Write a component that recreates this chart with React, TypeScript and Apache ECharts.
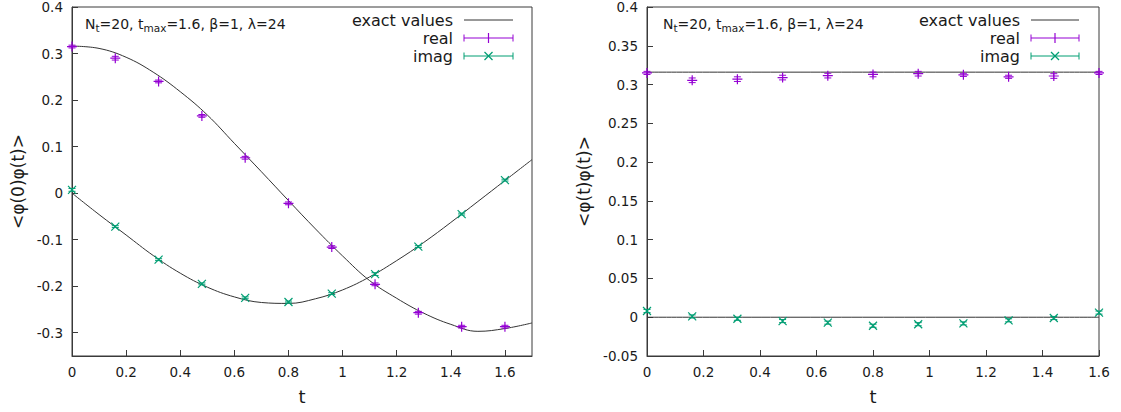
import React, { useEffect, useRef } from "react";
import * as echarts from "echarts";

// ---- data ----
const tPoints = [0, 0.16, 0.32, 0.48, 0.64, 0.8, 0.96, 1.12, 1.28, 1.44, 1.6];

// left panel: <phi(0)phi(t)>
const corrReal = [0.315, 0.29, 0.24, 0.166, 0.076, -0.022, -0.116, -0.196, -0.257, -0.287, -0.287];
const corrRealErr = [0.003, 0.004, 0.003, 0.003, 0.003, 0.003, 0.003, 0.003, 0.003, 0.003, 0.003];
const corrImag = [0.007, -0.072, -0.143, -0.195, -0.225, -0.234, -0.216, -0.174, -0.115, -0.045, 0.028];
const corrImagErr = [0.003, 0.002, 0.002, 0.002, 0.002, 0.002, 0.002, 0.003, 0.002, 0.002, 0.002];

const exactT = [0, 0.1, 0.2, 0.3, 0.4, 0.5, 0.6, 0.7, 0.8, 0.9, 1.0, 1.1, 1.2, 1.3, 1.4, 1.5, 1.6, 1.7];
const exactReal = [0.316, 0.311, 0.292, 0.26, 0.218, 0.168, 0.107, 0.046, -0.016, -0.077, -0.135, -0.188, -0.226, -0.258, -0.282, -0.297, -0.291, -0.279];
const exactImag = [0, -0.046, -0.09, -0.134, -0.172, -0.202, -0.223, -0.235, -0.237, -0.227, -0.208, -0.18, -0.145, -0.106, -0.063, -0.018, 0.027, 0.072];

// right panel: <phi(t)phi(t)>
const eqReal = [0.315, 0.3055, 0.307, 0.309, 0.3115, 0.313, 0.314, 0.3125, 0.31, 0.311, 0.315];
const eqRealErr = [0.002, 0.003, 0.003, 0.003, 0.003, 0.003, 0.003, 0.002, 0.002, 0.003, 0.002];
const eqImag = [0.008, 0.001, -0.002, -0.005, -0.007, -0.011, -0.009, -0.008, -0.004, -0.001, 0.006];
const eqImagErr = [0.002, 0.002, 0.002, 0.002, 0.002, 0.002, 0.002, 0.002, 0.002, 0.002, 0.002];
const eqExactT = [0, 1.6];
const eqExactReal = [0.316, 0.316];
const eqExactImag = [0, 0];

// tick labels
const leftXTicks = [0, 0.2, 0.4, 0.6, 0.8, 1, 1.2, 1.4, 1.6];
const leftYTicks = [-0.3, -0.2, -0.1, 0, 0.1, 0.2, 0.3, 0.4];
const rightXTicks = [0, 0.2, 0.4, 0.6, 0.8, 1, 1.2, 1.4, 1.6];
const rightYTicks = [-0.05, 0, 0.05, 0.1, 0.15, 0.2, 0.25, 0.3, 0.35, 0.4];

const legendNames = ["exact values", "real", "imag"];
const annotation = "{m|N}{s|t}{m|=20, t}{s|max}{m|=1.6, β=1, λ=24}";

// ---- styling ----
const FONT = "DejaVu Sans";
const PURPLE = "#9400d3";
const GREEN = "#009e73";
const AXIS = "#3a3a3a";
const TEXT = "#1a1a1a";
const CURVE = "#333333";

const PLUS = "path://M0,5L10,5M5,0L5,10";
const CROSS = "path://M0,0L10,10M0,10L10,0";

const zip = (xs: number[], ys: number[], es?: number[]) =>
  xs.map((x, i) => (es ? [x, ys[i], es[i]] : [x, ys[i]]));

const errRender = (color: string) => (params: any, api: any) => {
  const x = api.value(0);
  const y = api.value(1);
  const e = api.value(2);
  const lo = api.coord([x, y - e]);
  const hi = api.coord([x, y + e]);
  const w = 3.5;
  const style = { stroke: color, lineWidth: 1 };
  return {
    type: "group",
    children: [
      { type: "line", shape: { x1: lo[0], y1: lo[1], x2: hi[0], y2: hi[1] }, style },
      { type: "line", shape: { x1: lo[0] - w, y1: lo[1], x2: lo[0] + w, y2: lo[1] }, style },
      { type: "line", shape: { x1: hi[0] - w, y1: hi[1], x2: hi[0] + w, y2: hi[1] }, style },
    ],
  };
};

function xAxisCfg(grid: number, max: number, ticks: number[]) {
  return {
    type: "value",
    gridIndex: grid,
    min: 0,
    max,
    name: "t",
    nameLocation: "middle",
    nameGap: 31,
    nameTextStyle: { fontSize: 18, color: TEXT, fontFamily: FONT },
    axisLine: { show: true, onZero: false, lineStyle: { color: AXIS, width: 1 } },
    axisTick: { show: true, inside: true, length: 6, customValues: ticks, lineStyle: { color: AXIS } },
    axisLabel: { color: TEXT, fontSize: 13.5, fontFamily: FONT, margin: 9, customValues: ticks },
    splitLine: { show: false },
  };
}

function yAxisCfg(grid: number, min: number, max: number, ticks: number[], name: string, gap: number) {
  return {
    type: "value",
    gridIndex: grid,
    min,
    max,
    name,
    nameLocation: "middle",
    nameRotate: 90,
    nameGap: gap,
    nameTextStyle: { fontSize: 17, color: TEXT, fontFamily: FONT },
    axisLine: { show: true, onZero: false, lineStyle: { color: AXIS, width: 1 } },
    axisTick: { show: true, inside: true, length: 6, customValues: ticks, lineStyle: { color: AXIS } },
    axisLabel: { color: TEXT, fontSize: 13.5, fontFamily: FONT, margin: 9, customValues: ticks },
    splitLine: { show: false },
  };
}

function legendGraphic(textRight: number, x1: number, x2: number, ys: number[]) {
  const els: any[] = [];
  const mid = (x1 + x2) / 2;
  const cap = 3.5;
  legendNames.forEach((name, i) => {
    const y = ys[i];
    els.push({
      type: "text",
      x: textRight,
      y,
      style: { text: name, align: "right", verticalAlign: "middle", fontSize: 16, fontFamily: FONT, fill: TEXT },
    });
    const color = i === 0 ? CURVE : i === 1 ? PURPLE : GREEN;
    const st = { stroke: color, lineWidth: 1 };
    els.push({ type: "line", shape: { x1, y1: y, x2, y2: y }, style: st });
    if (i > 0) {
      els.push({ type: "line", shape: { x1, y1: y - cap, x2: x1, y2: y + cap }, style: st });
      els.push({ type: "line", shape: { x1: x2, y1: y - cap, x2, y2: y + cap }, style: st });
    }
    if (i === 1) {
      els.push({ type: "line", shape: { x1: mid, y1: y - 5, x2: mid, y2: y + 5 }, style: { stroke: color, lineWidth: 1.2 } });
    }
    if (i === 2) {
      els.push({ type: "line", shape: { x1: mid - 4, y1: y - 4, x2: mid + 4, y2: y + 4 }, style: { stroke: color, lineWidth: 1.2 } });
      els.push({ type: "line", shape: { x1: mid - 4, y1: y + 4, x2: mid + 4, y2: y - 4 }, style: { stroke: color, lineWidth: 1.2 } });
    }
  });
  return els;
}

function annotationGraphic(x: number, y: number) {
  return {
    type: "text",
    x,
    y,
    style: {
      text: annotation,
      verticalAlign: "middle",
      rich: {
        m: { fontSize: 14, fontFamily: FONT, fill: TEXT, lineHeight: 18, verticalAlign: "middle" },
        s: { fontSize: 10.5, fontFamily: FONT, fill: TEXT, lineHeight: 10, verticalAlign: "bottom" },
      },
    },
  };
}

const lineSeries = (name: string, xi: number, data: number[][]) => ({
  type: "line",
  name,
  xAxisIndex: xi,
  yAxisIndex: xi,
  data,
  smooth: 0.4,
  showSymbol: false,
  symbol: "none",
  silent: true,
  lineStyle: { color: CURVE, width: 1 },
  itemStyle: { color: CURVE },
  z: 1,
});

const markerSeries = (name: string, xi: number, data: number[][], color: string, symbol: string, size: number) => ({
  type: "scatter",
  name,
  xAxisIndex: xi,
  yAxisIndex: xi,
  data,
  symbol,
  symbolSize: size,
  silent: true,
  itemStyle: { color: "rgba(0,0,0,0)", borderColor: color, borderWidth: 1.2, opacity: 1 },
  z: 3,
});

const errSeries = (name: string, xi: number, data: number[][], color: string) => ({
  type: "custom",
  name,
  xAxisIndex: xi,
  yAxisIndex: xi,
  data,
  silent: true,
  renderItem: errRender(color),
  z: 2,
});

const option: any = {
  animation: false,
  backgroundColor: "#ffffff",
  textStyle: { fontFamily: FONT },
  grid: [
    { left: 72, top: 5, width: 460, height: 351, show: true, borderColor: AXIS, borderWidth: 1, backgroundColor: "transparent" },
    { left: 647, top: 5, width: 452, height: 351, show: true, borderColor: AXIS, borderWidth: 1, backgroundColor: "transparent" },
  ],
  xAxis: [xAxisCfg(0, 1.7, leftXTicks), xAxisCfg(1, 1.6, rightXTicks)],
  yAxis: [
    yAxisCfg(0, -0.35, 0.4, leftYTicks, "<φ(0)φ(t)>", 46),
    yAxisCfg(1, -0.05, 0.4, rightYTicks, "<φ(t)φ(t)>", 55),
  ],
  series: [
    lineSeries("exact values", 0, zip(exactT, exactReal)),
    lineSeries("exact values", 0, zip(exactT, exactImag)),
    lineSeries("exact values", 1, zip(eqExactT, eqExactReal)),
    lineSeries("exact values", 1, zip(eqExactT, eqExactImag)),
    errSeries("real", 0, zip(tPoints, corrReal, corrRealErr), PURPLE),
    errSeries("imag", 0, zip(tPoints, corrImag, corrImagErr), GREEN),
    errSeries("real", 1, zip(tPoints, eqReal, eqRealErr), PURPLE),
    errSeries("imag", 1, zip(tPoints, eqImag, eqImagErr), GREEN),
    markerSeries("real", 0, zip(tPoints, corrReal), PURPLE, PLUS, 10),
    markerSeries("imag", 0, zip(tPoints, corrImag), GREEN, CROSS, 8),
    markerSeries("real", 1, zip(tPoints, eqReal), PURPLE, PLUS, 10),
    markerSeries("imag", 1, zip(tPoints, eqImag), GREEN, CROSS, 8),
  ],
  graphic: [
    ...legendGraphic(453, 464, 513, [20, 38, 56]),
    ...legendGraphic(1020, 1031, 1079, [20, 38, 56]),
    annotationGraphic(85, 24),
    annotationGraphic(663, 24),
  ],
};

export default function App() {
  const ref = useRef<HTMLDivElement>(null);
  useEffect(() => {
    if (!ref.current) return;
    const chart = echarts.init(ref.current, null, { renderer: "svg" });
    chart.setOption(option);
    return () => chart.dispose();
  }, []);
  return (
    <div
      ref={ref}
      style={{ position: "fixed", left: 0, top: 0, width: 1121, height: 412, background: "#ffffff" }}
    />
  );
}
